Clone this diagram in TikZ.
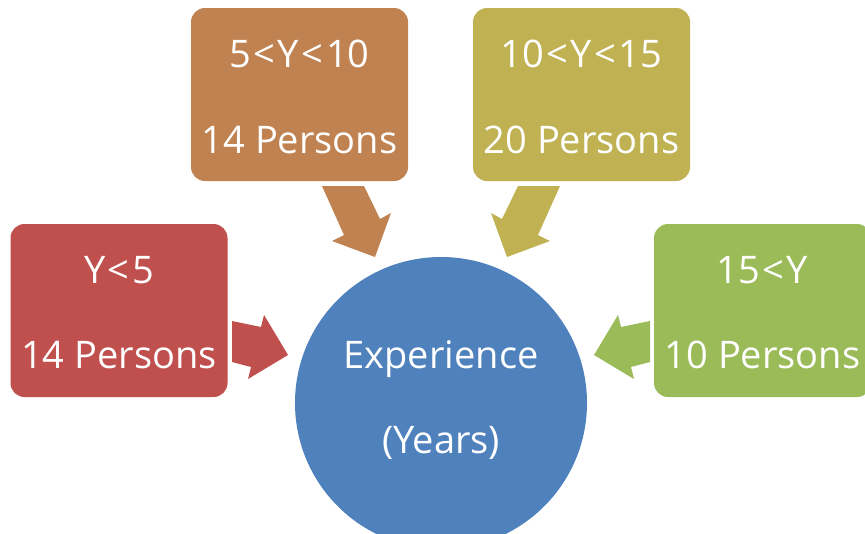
\documentclass[tikz,border=0pt]{standalone}
\usepackage{fontspec}
\setmainfont{Open Sans}
\definecolor{redc}{HTML}{C0504D}
\definecolor{brownc}{HTML}{C08250}
\definecolor{olivec}{HTML}{C0B253}
\definecolor{greenc}{HTML}{9BBB59}
\definecolor{bluec}{HTML}{4F81BD}
\newcommand{\lessthan}{\hspace{2.5pt}<\hspace{2.5pt}}
\begin{document}
\begin{tikzpicture}[x=1pt,y=-1pt,
  box/.style={rectangle, rounded corners=14pt, minimum width=217pt, minimum height=173pt, inner sep=0pt, draw=none},
  lbl/.style={anchor=base, text=white, inner sep=0pt, font=\fontsize{38}{40}\selectfont},
  hub/.style={circle, minimum size=292pt, inner sep=0pt, fill=bluec, draw=none}]
\useasboundingbox (0,0) rectangle (865,533);
\clip (0,0) rectangle (865,533);
% boxes
\node[box, fill=redc] (yr) at (119,310.5) {};
\node[box, fill=brownc] (yb) at (299.5,94.5) {};
\node[box, fill=olivec] (yo) at (581.5,94.5) {};
\node[box, fill=greenc] (yg) at (762.5,310.5) {};
% hub
\node[hub] (hub) at (441,403) {};
% labels
\node[lbl] (r1) at (119,283) {Y\lessthan5};
\node[lbl] (r2) at (119,368) {14 Persons};
\node[lbl] (b1) at (299.5,67) {5\lessthan Y\lessthan10};
\node[lbl] (b2) at (299.5,153) {14 Persons};
\node[lbl] (o1) at (581.5,67) {10\lessthan Y\lessthan15};
\node[lbl] (o2) at (581.5,153) {20 Persons};
\node[lbl] (g1) at (762.5,283) {15\lessthan Y};
\node[lbl] (g2) at (762.5,368) {10 Persons};
\node[lbl] (h1) at (441,368) {Experience};
\node[lbl] (h2) at (441,453) {(Years)};
% block arrows
\fill[redc] (232,321) -- (261,327) -- (264,315) -- (288,355) -- (248,379) -- (251,367) -- (232,362) -- cycle;
\fill[greenc] (650,321) -- (621,327) -- (618,315) -- (594,355) -- (634,379) -- (631,367) -- (650,362) -- cycle;
\fill[brownc] (322,186) -- (344,235) -- (332,241) -- (375,257) -- (391,213) -- (380,219) -- (364,186) -- cycle;
\fill[olivec] (560,186) -- (538,235) -- (550,241) -- (507,257) -- (491,213) -- (502,219) -- (518,186) -- cycle;
\end{tikzpicture}
\end{document}
